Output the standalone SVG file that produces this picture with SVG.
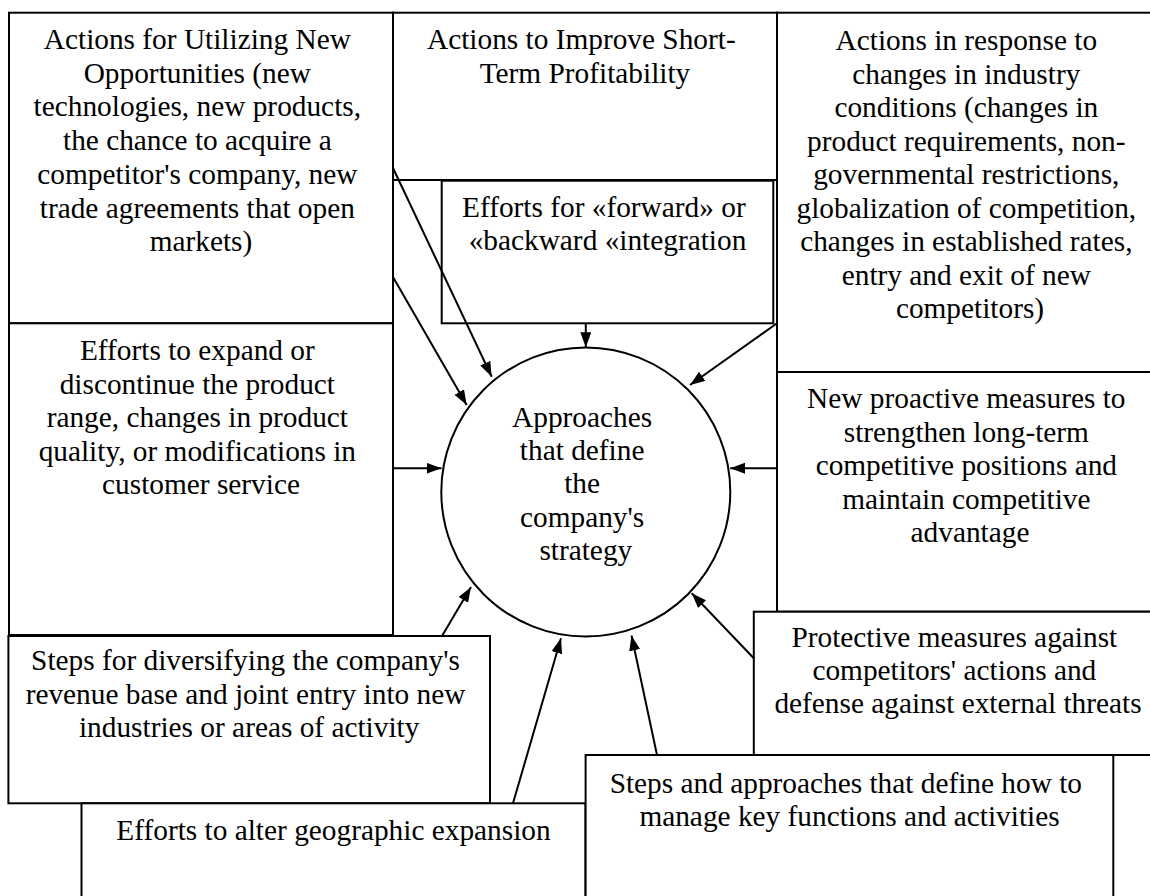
<svg xmlns="http://www.w3.org/2000/svg" width="1150" height="896" viewBox="0 0 1150 896">
  <style>
    .box { fill: #ffffff; stroke: #000000; stroke-width: 2; }
    .hub { fill: #ffffff; stroke: #000000; stroke-width: 2; }
    .lbl { font-family: 'Liberation Serif', 'Times New Roman', serif; font-size: 29.33px; fill: #000000; text-anchor: middle; }
    .link { stroke: #000000; stroke-width: 2; fill: none; marker-end: url(#arrow); }
  </style>
  <defs>
    <marker id="arrow" markerUnits="userSpaceOnUse" markerWidth="16" markerHeight="12" refX="15" refY="5.5" orient="auto">
      <path d="M0,0 L15,5.5 L0,11 Z" fill="#000000"/>
    </marker>
  </defs>

  <rect x="0" y="0" width="1150" height="896" fill="#ffffff"/>

  <!-- upper row -->
  <g id="node-new-opportunities">
    <rect class="box" x="9" y="12.7" width="384" height="310.6"/>
    <text class="lbl">
      <tspan x="201" y="49">Actions for Utilizing New</tspan>
      <tspan x="201" y="82.7">Opportunities (new</tspan>
      <tspan x="201" y="116.4">technologies, new products,</tspan>
      <tspan x="201" y="150.1">the chance to acquire a</tspan>
      <tspan x="201" y="183.8">competitor's company, new</tspan>
      <tspan x="201" y="217.5">trade agreements that open</tspan>
      <tspan x="201" y="251.2">markets)</tspan>
    </text>
  </g>

  <g id="node-short-term-profit">
    <rect class="box" x="393" y="12.7" width="384" height="167.3"/>
    <text class="lbl">
      <tspan x="585" y="49">Actions to Improve Short-</tspan>
      <tspan x="585" y="82.7">Term Profitability</tspan>
    </text>
  </g>

  <g id="node-industry-changes">
    <rect class="box" x="777" y="12.7" width="386" height="359.3"/>
    <text class="lbl">
      <tspan x="970" y="50">Actions in response to</tspan>
      <tspan x="970" y="83.5">changes in industry</tspan>
      <tspan x="970" y="117">conditions (changes in</tspan>
      <tspan x="970" y="150.5">product requirements, non-</tspan>
      <tspan x="970" y="184">governmental restrictions,</tspan>
      <tspan x="970" y="217.5">globalization of competition,</tspan>
      <tspan x="970" y="251">changes in established rates,</tspan>
      <tspan x="970" y="284.5">entry and exit of new</tspan>
      <tspan x="970" y="318">competitors)</tspan>
    </text>
  </g>

  <g id="node-integration">
    <rect class="box" x="441.7" y="180.7" width="331.6" height="142.6"/>
    <text class="lbl">
      <tspan x="607.5" y="216.7">Efforts for «forward» or</tspan>
      <tspan x="607.5" y="250.2">«backward «integration</tspan>
    </text>
  </g>

  <!-- middle row -->
  <g id="node-product-range">
    <rect class="box" x="9" y="323.3" width="384" height="311.7"/>
    <text class="lbl">
      <tspan x="201" y="360">Efforts to expand or</tspan>
      <tspan x="201" y="393.5">discontinue the product</tspan>
      <tspan x="201" y="427">range, changes in product</tspan>
      <tspan x="201" y="460.5">quality, or modifications in</tspan>
      <tspan x="201" y="494">customer service</tspan>
    </text>
  </g>

  <g id="node-proactive">
    <rect class="box" x="777" y="372" width="386" height="239.7"/>
    <text class="lbl">
      <tspan x="970" y="408.3">New proactive measures to</tspan>
      <tspan x="970" y="441.8">strengthen long-term</tspan>
      <tspan x="970" y="475.3">competitive positions and</tspan>
      <tspan x="970" y="508.8">maintain competitive</tspan>
      <tspan x="970" y="542.3">advantage</tspan>
    </text>
  </g>

  <g id="node-strategy">
    <circle class="hub" cx="585.8" cy="492" r="144.5"/>
    <text class="lbl">
      <tspan x="585.8" y="426.7">Approaches</tspan>
      <tspan x="585.8" y="460">that define</tspan>
      <tspan x="585.8" y="493.3">the</tspan>
      <tspan x="585.8" y="526.7">company's</tspan>
      <tspan x="585.8" y="560">strategy</tspan>
    </text>
  </g>

  <!-- lower row -->
  <g id="node-diversification">
    <rect class="box" x="8.4" y="636" width="481.6" height="167.3"/>
    <text class="lbl">
      <tspan x="249.2" y="670">Steps for diversifying the company's</tspan>
      <tspan x="249.2" y="703.7">revenue base and joint entry into new</tspan>
      <tspan x="249.2" y="737.4">industries or areas of activity</tspan>
    </text>
  </g>

  <g id="node-protective">
    <rect class="box" x="753.8" y="611.7" width="409.2" height="143.3"/>
    <text class="lbl">
      <tspan x="958" y="646.7">Protective measures against</tspan>
      <tspan x="958" y="680">competitors' actions and</tspan>
      <tspan x="958" y="713.3">defense against external threats</tspan>
    </text>
  </g>

  <g id="node-geographic">
    <rect class="box" x="81.5" y="803.3" width="504" height="110"/>
    <text class="lbl" x="333.5" y="840">Efforts to alter geographic expansion</text>
  </g>

  <g id="node-key-functions">
    <rect class="box" x="585.6" y="755" width="527.7" height="160"/>
    <text class="lbl">
      <tspan x="849.5" y="792.5">Steps and approaches that define how to</tspan>
      <tspan x="849.5" y="825.5">manage key functions and activities</tspan>
    </text>
  </g>

  <!-- connectors into the central circle -->
  <g id="connectors">
    <line class="link" x1="393" y1="168" x2="491.7" y2="376.7"/>
    <line class="link" x1="393" y1="277" x2="466.7" y2="405"/>
    <line class="link" x1="585.8" y1="323.3" x2="585.8" y2="347.3"/>
    <line class="link" x1="777" y1="323.3" x2="690" y2="385"/>
    <line class="link" x1="393" y1="468.3" x2="441.5" y2="468.3"/>
    <line class="link" x1="777" y1="468.3" x2="730.2" y2="468.3"/>
    <line class="link" x1="442" y1="636" x2="471" y2="587"/>
    <line class="link" x1="513" y1="803.3" x2="561" y2="638.3"/>
    <line class="link" x1="657" y1="755" x2="631.5" y2="635.5"/>
    <line class="link" x1="753.8" y1="658.3" x2="691.7" y2="593.3"/>
  </g>
</svg>
